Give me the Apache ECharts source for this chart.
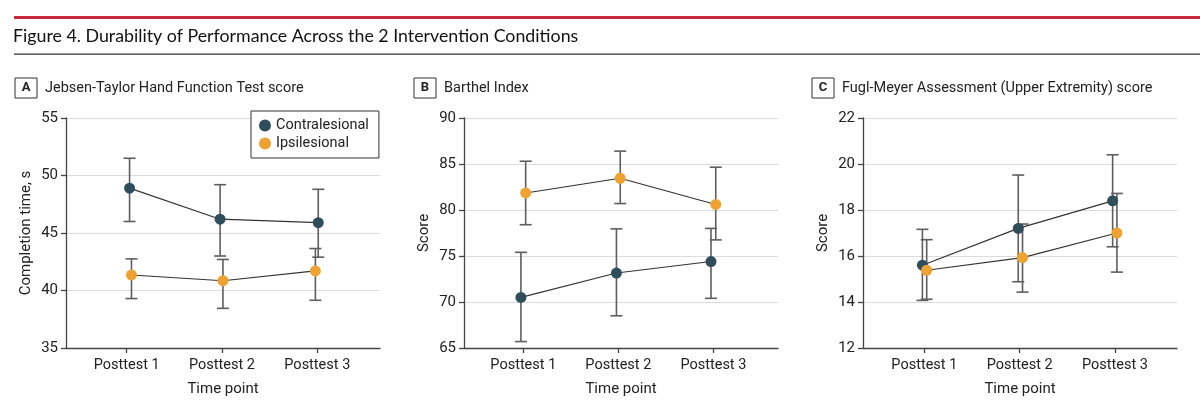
<!DOCTYPE html>
<html>
<head>
<meta charset="utf-8">
<script src="https://cdn.jsdelivr.net/npm/echarts@6/dist/echarts.min.js"></script>
<style>html,body{margin:0;padding:0;background:#fff;}#c{width:1200px;height:407px;}</style>
</head>
<body>
<div id="c"></div>
<script>
// ---- data ----
var categories = ['Posttest 1', 'Posttest 2', 'Posttest 3'];
var seriesNames = ['Contralesional', 'Ipsilesional'];
var figureTitle = 'Figure 4. Durability of Performance Across the 2 Intervention Conditions';
var panelLetters = ['A', 'B', 'C'];
var panelTitles = ['Jebsen-Taylor Hand Function Test score', 'Barthel Index', 'Fugl-Meyer Assessment (Upper Extremity) score'];
var yNames = ['Completion time, s', 'Score', 'Score'];
var xName = 'Time point';
var yMin = [35, 65, 12];
var yMax = [55, 90, 22];
var yStep = [5, 5, 2];

// Panel A: Jebsen-Taylor
var contraMeanA = [48.9, 46.2, 45.9];
var contraLowA  = [46.0, 43.0, 42.9];
var contraHighA = [51.5, 49.2, 48.8];
var ipsiMeanA   = [41.35, 40.85, 41.7];
var ipsiLowA    = [39.3, 38.45, 39.15];
var ipsiHighA   = [42.75, 42.7, 43.65];
// Panel B: Barthel
var contraMeanB = [70.5, 73.15, 74.4];
var contraLowB  = [65.7, 68.5, 70.4];
var contraHighB = [75.4, 77.95, 78.0];
var ipsiMeanB   = [81.85, 83.45, 80.6];
var ipsiLowB    = [78.4, 80.7, 76.75];
var ipsiHighB   = [85.3, 86.4, 84.65];
// Panel C: Fugl-Meyer
var contraMeanC = [15.6, 17.2, 18.4];
var contraLowC  = [14.07, 14.88, 16.4];
var contraHighC = [17.16, 19.52, 20.4];
var ipsiMeanC   = [15.38, 15.93, 17.0];
var ipsiLowC    = [14.12, 14.43, 15.3];
var ipsiHighC   = [16.71, 17.39, 18.72];
// small horizontal dodge of each group (category units)
var contraDodge = [[0.03, -0.02, 0.01], [-0.025, -0.02, -0.025], [-0.02, -0.015, -0.025]];
var ipsiDodge   = [[0.05, 0.01, -0.02], [0.025, 0.02, 0.025], [0.025, 0.03, 0.02]];

var panels = [
  {contra: [contraMeanA, contraLowA, contraHighA], ipsi: [ipsiMeanA, ipsiLowA, ipsiHighA]},
  {contra: [contraMeanB, contraLowB, contraHighB], ipsi: [ipsiMeanB, ipsiLowB, ipsiHighB]},
  {contra: [contraMeanC, contraLowC, contraHighC], ipsi: [ipsiMeanC, ipsiLowC, ipsiHighC]}
];

// ---- styling / layout ----
var FONT = 'Roboto';
var FS = 14.5;
var TITLE_FONT = 'Lato';
var COL_CONTRA = '#2f4d5b';
var COL_IPSI = '#eea231';
var gridLeft = [66, 464, 863];
var xMinArr = [0.363, 0.376, 0.357];
var xMaxArr = [3.658, 3.68, 3.65];
var titleLeft = [15, 414, 812];

var chart = echarts.init(document.getElementById('c'), null, {renderer: 'canvas'});

var grids = [], xAxes = [], yAxes = [], series = [], titles = [];

titles.push({
  text: figureTitle, left: 13, top: 27, padding: 0,
  textStyle: {fontFamily: TITLE_FONT, fontSize: 17.8, fontWeight: 'normal', color: '#111'}
});

function errSeries(p, name, arr, dodge) {
  var data = categories.map(function (c, i) { return [i + 1 + dodge[i], arr[1][i], arr[2][i]]; });
  return {
    type: 'custom', name: name, xAxisIndex: p, yAxisIndex: p, z: 2, silent: true,
    data: data,
    encode: {x: 0, y: [1, 2]},
    renderItem: function (params, api) {
      var x = api.value(0);
      var lo = api.coord([x, api.value(1)]);
      var hi = api.coord([x, api.value(2)]);
      var w = 6;
      var st = {stroke: '#5e5e5e', lineWidth: 1.6};
      return {type: 'group', children: [
        {type: 'line', shape: {x1: lo[0], y1: lo[1], x2: hi[0], y2: hi[1]}, style: st},
        {type: 'line', shape: {x1: lo[0] - w, y1: lo[1], x2: lo[0] + w, y2: lo[1]}, style: st},
        {type: 'line', shape: {x1: hi[0] - w, y1: hi[1], x2: hi[0] + w, y2: hi[1]}, style: st}
      ]};
    }
  };
}

function lineSeries(p, name, arr, dodge, color) {
  return {
    type: 'line', name: name, xAxisIndex: p, yAxisIndex: p, z: 5,
    data: categories.map(function (c, i) { return [i + 1 + dodge[i], arr[0][i]]; }),
    symbol: 'circle', symbolSize: 11, showSymbol: true,
    itemStyle: {color: color, borderWidth: 0},
    lineStyle: {color: '#333', width: 1.2},
    emphasis: {disabled: true},
    animation: false
  };
}

for (var p = 0; p < 3; p++) {
  grids.push({left: gridLeft[p], top: 118, width: 314, height: 230, containLabel: false});
  titles.push({
    left: titleLeft[p], top: 78, padding: 0,
    text: '{b|' + panelLetters[p] + '}{t|' + panelTitles[p] + '}',
    textStyle: {
      fontFamily: FONT, fontSize: FS, fontWeight: 'normal', color: '#222',
      rich: {
        b: {fontFamily: FONT, fontSize: FS - 1.5, fontWeight: 'bold', color: '#222', borderColor: '#333', borderWidth: 1,
            width: 22, height: 20, align: 'center', verticalAlign: 'middle', lineHeight: 20},
        t: {fontFamily: FONT, fontSize: FS, fontWeight: 'normal', color: '#222', padding: [0, 0, 0, 8], lineHeight: 20}
      }
    }
  });
  xAxes.push({
    type: 'value', gridIndex: p, min: xMinArr[p], max: xMaxArr[p],
    name: xName, nameLocation: 'middle', nameGap: 34,
    nameTextStyle: {fontFamily: FONT, fontSize: FS + 0.5, color: '#222'},
    axisLine: {show: true, lineStyle: {color: '#444', width: 1.3}},
    axisTick: {show: true, customValues: [1, 2, 3], length: 5, lineStyle: {color: '#444', width: 1.3}},
    axisLabel: {show: true, customValues: [1, 2, 3], margin: 10, fontFamily: FONT, fontSize: FS, color: '#222',
      formatter: function (v) { return categories[Math.round(v) - 1]; }},
    splitLine: {show: false}
  });
  yAxes.push({
    type: 'value', gridIndex: p, min: yMin[p], max: yMax[p], interval: yStep[p],
    name: yNames[p], nameLocation: 'middle', nameGap: 32,
    nameTextStyle: {fontFamily: FONT, fontSize: FS + 0.5, color: '#222'},
    axisLine: {show: true, lineStyle: {color: '#444', width: 1.3}},
    axisTick: {show: true, length: 5, lineStyle: {color: '#444', width: 1.3}},
    axisLabel: {margin: 8, fontFamily: FONT, fontSize: FS + 0.5, color: '#222'},
    splitLine: {show: true, lineStyle: {color: '#dcdcdc', width: 1}}
  });
  series.push(errSeries(p, seriesNames[0], panels[p].contra, contraDodge[p]));
  series.push(errSeries(p, seriesNames[1], panels[p].ipsi, ipsiDodge[p]));
  series.push(lineSeries(p, seriesNames[0], panels[p].contra, contraDodge[p], COL_CONTRA));
  series.push(lineSeries(p, seriesNames[1], panels[p].ipsi, ipsiDodge[p], COL_IPSI));
}

chart.setOption({
  animation: false,
  backgroundColor: '#fff',
  title: titles,
  grid: grids,
  xAxis: xAxes,
  yAxis: yAxes,
  series: series,
  legend: {
    left: 251, top: 111, orient: 'vertical',
    padding: [7, 10, 7, 8], itemGap: 3,
    borderColor: '#333', borderWidth: 1, backgroundColor: '#fff',
    icon: 'circle', itemWidth: 12, itemHeight: 12,
    selectedMode: false,
    textStyle: {fontFamily: FONT, fontSize: FS, color: '#222'},
    data: [
      {name: seriesNames[0], itemStyle: {color: COL_CONTRA}},
      {name: seriesNames[1], itemStyle: {color: COL_IPSI}}
    ]
  },
  graphic: [
    {type: 'rect', shape: {x: 14, y: 16, width: 1186, height: 3}, style: {fill: '#c62a3b'}, silent: true},
    {type: 'rect', shape: {x: 14, y: 53.5, width: 1186, height: 1.2}, style: {fill: '#333'}, silent: true}
  ]
});
</script>
</body>
</html>
